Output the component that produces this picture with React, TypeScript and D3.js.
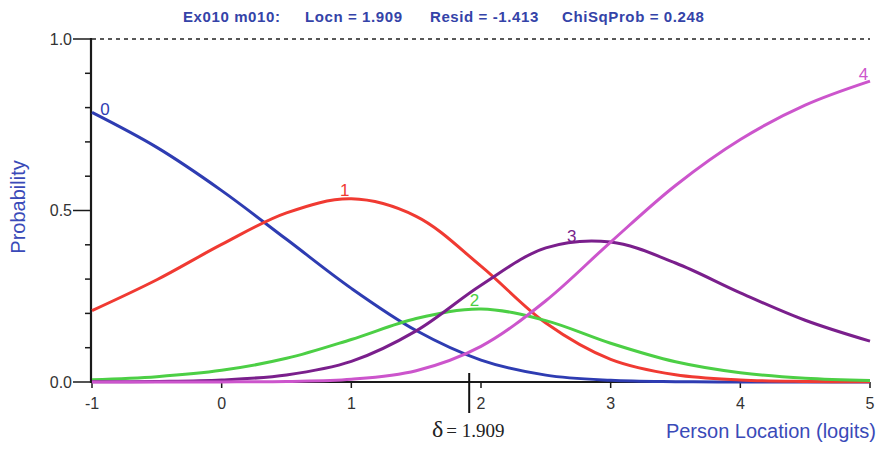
import React from "react";
import * as d3 from "d3";

const locations = [-1, -0.5, 0, 0.5, 1, 1.5, 2, 2.5, 3, 3.5, 4, 4.5, 5];
const cat0 = [0.786, 0.684, 0.558, 0.416, 0.273, 0.15, 0.064, 0.02, 0.005, 0.001, 0.0002, 0, 0];
const cat1 = [0.208, 0.298, 0.401, 0.493, 0.534, 0.483, 0.338, 0.172, 0.066, 0.021, 0.006, 0.0015, 0.0004];
const cat2 = [0.0065, 0.0155, 0.034, 0.069, 0.124, 0.185, 0.213, 0.179, 0.113, 0.059, 0.027, 0.011, 0.0045];
const cat3 = [0.0004, 0.0017, 0.006, 0.0205, 0.06, 0.149, 0.282, 0.391, 0.408, 0.347, 0.26, 0.18, 0.119];
const cat4 = [0, 0.0001, 0.0003, 0.0017, 0.008, 0.033, 0.104, 0.237, 0.408, 0.573, 0.707, 0.807, 0.877];
const seriesNames = ["0", "1", "2", "3", "4"];
const seriesColors = ["#2e3cb2", "#f03a32", "#4ccf45", "#7a1f8c", "#cc55cc"];
const labelAt = [-0.9, 0.95, 1.95, 2.7, 4.95];
const yTicksMajor = [0, 0.5, 1];
const yTicksMinor = [0.1, 0.2, 0.3, 0.4, 0.6, 0.7, 0.8, 0.9];
const xTicks = [-1, 0, 1, 2, 3, 4, 5];
const delta = 1.909;
const titleParts = ["Ex010 m010:", "Locn = 1.909", "Resid = -1.413", "ChiSqProb = 0.248"];

export default function App() {
  const W = 881, H = 449;
  const x = d3.scaleLinear().domain([-1, 5]).range([92, 870]);
  const y = d3.scaleLinear().domain([0, 1]).range([382, 39]);
  const all = [cat0, cat1, cat2, cat3, cat4];
  const line = d3
    .line<number>()
    .x((_, i) => x(locations[i]))
    .y((d) => y(d))
    .curve(d3.curveCatmullRom.alpha(0.5));
  const interp = (arr: number[], v: number) => {
    const i = Math.min(locations.length - 2, Math.floor((v + 1) / 0.5));
    const t = (v - locations[i]) / 0.5;
    return arr[i] * (1 - t) + arr[i + 1] * t;
  };
  const titleX = [183, 305, 430, 562];
  const sans = "Arial, 'Liberation Sans', sans-serif";
  return (
    <svg width={W} height={H} style={{ position: "absolute", left: 0, top: 0, background: "#fff" }}>
      <g fontFamily={sans}>
        {titleParts.map((t, i) => (
          <text key={t} x={titleX[i]} y={22} fontSize={15} fontWeight="bold" fill="#3443a8" letterSpacing={0.6}>
            {t}
          </text>
        ))}
      </g>
      {/* dashed top line */}
      <line x1={x(-1)} x2={x(5)} y1={y(1)} y2={y(1)} stroke="#222" strokeWidth={1.5} strokeDasharray="4,4" />
      {/* y axis */}
      <line x1={91} x2={91} y1={y(1) - 1} y2={y(0) + 1} stroke="#1a1a1a" strokeWidth={2.2} />
      {yTicksMinor.map((t) => (
        <line key={t} x1={85} x2={91} y1={y(t)} y2={y(t)} stroke="#1a1a1a" strokeWidth={1.5} />
      ))}
      {yTicksMajor.map((t) => (
        <g key={t}>
          <line x1={73} x2={91} y1={y(t)} y2={y(t)} stroke="#1a1a1a" strokeWidth={1.5} />
          <text x={72} y={y(t)} dy="0.35em" textAnchor="end" fontSize={16} fill="#333" fontFamily={sans}>
            {t.toFixed(1)}
          </text>
        </g>
      ))}
      {/* x axis */}
      <line x1={x(-1)} x2={x(5)} y1={y(0)} y2={y(0)} stroke="#1a1a1a" strokeWidth={2} />
      {xTicks.map((t) => (
        <g key={t}>
          <line x1={x(t)} x2={x(t)} y1={y(0)} y2={y(0) + 6} stroke="#1a1a1a" strokeWidth={1.5} />
          <text x={x(t)} y={403} dy="0.35em" textAnchor="middle" fontSize={16} fill="#333" fontFamily={sans}>
            {t}
          </text>
        </g>
      ))}
      {/* delta marker */}
      <line x1={x(delta)} x2={x(delta)} y1={373} y2={413} stroke="#111" strokeWidth={2} />
      <text x={432} y={437} fill="#222" fontFamily="'Liberation Serif', 'DejaVu Serif', serif">
        <tspan fontSize={24}>δ</tspan>
        <tspan fontSize={19} dx={3}>= {delta.toFixed(3)}</tspan>
      </text>
      {/* curves */}
      {all.map((arr, k) => (
        <path key={k} d={line(arr) || ""} fill="none" stroke={seriesColors[k]} strokeWidth={3} />
      ))}
      {all.map((arr, k) => (
        <text
          key={"l" + k}
          x={x(labelAt[k])}
          y={y(interp(arr, labelAt[k])) - 4}
          textAnchor="middle"
          fontSize={17}
          fill={seriesColors[k]}
          fontFamily="'Liberation Sans Narrow', Arial, sans-serif"
        >
          {seriesNames[k]}
        </text>
      ))}
      {/* axis titles */}
      <text transform={`translate(25, 207) rotate(-90)`} textAnchor="middle" fontSize={20} fill="#3a4ab8" fontFamily={sans}>
        Probability
      </text>
      <text x={876} y={438} textAnchor="end" fontSize={20} fill="#3a4ab8" fontFamily={sans}>
        Person Location (logits)
      </text>
    </svg>
  );
}
